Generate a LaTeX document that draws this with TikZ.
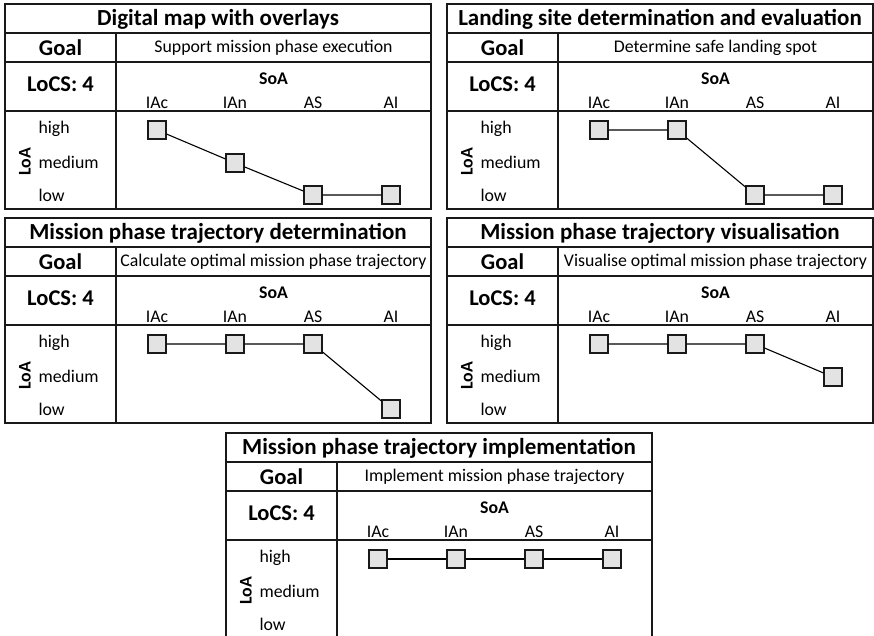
\documentclass[tikz,border=0pt]{standalone}
\usepackage{fontspec}
\setmainfont{Carlito}

\tikzset{
  frame/.style={draw=black!90, line width=1.3pt},
  level/.style={rectangle, draw=black!90, fill=black!11, line width=1.2pt,
    minimum size=18pt, inner sep=0pt},
  link/.style={draw=black, line width=1.1pt},
  title/.style={font=\fontsize{23}{27}\selectfont\bfseries},
  head/.style={font=\fontsize{22.5}{27}\selectfont\bfseries},
  txt/.style={font=\fontsize{17.8}{21}\selectfont},
  txtb/.style={font=\fontsize{17.8}{21}\selectfont\bfseries},
}

% table of one function: title, goal, SoA and LoA axes
\newcommand{\loaframe}[2]{%
  \draw[frame] (0,0) rectangle (426,205);
  \draw[frame] (0,29) -- (426,29);
  \draw[frame] (0,58) -- (426,58);
  \draw[frame] (0,107) -- (426,107);
  \draw[frame] (111,29) -- (111,205);
  \node[title] (name) at (213,15) {#1};
  \node[head] (goal) at (55.5,44) {Goal};
  \node[txt] (aim) at (268.5,44) {#2};
  \node[head] (locs) at (55.5,80) {LoCS: 4};
  \node[txtb] (soa) at (268.5,75) {SoA};
  \node[txt] (tIAc) at (152,99) {IAc};
  \node[txt] (tIAn) at (230,99) {IAn};
  \node[txt] (tAS) at (308,99) {AS};
  \node[txt] (tAI) at (386,99) {AI};
  \node[txtb,rotate=90] (loa) at (20,158) {LoA};
  \node[txt,anchor=west] (high) at (30,125) {high};
  \node[txt,anchor=west] (medium) at (30,158) {medium};
  \node[txt,anchor=west] (low) at (30,191) {low};
}

\begin{document}
\begin{tikzpicture}[x=1pt,y=-1pt]
  \useasboundingbox (0,0) rectangle (874,636);

  % Digital map
  \begin{scope}[shift={(5,4)},name prefix=map-]
    \loaframe{Digital map with overlays}{Support mission phase execution}
    \node[level] (IAc) at (152,126) {};
    \node[level] (IAn) at (230,159) {};
    \node[level] (AS) at (308,191) {};
    \node[level] (AI) at (386,191) {};
    \draw[link] (IAc) -- (IAn) -- (AS) -- (AI);
  \end{scope}

  % Landing site
  \begin{scope}[shift={(447,4)},name prefix=site-]
    \loaframe{Landing site determination and evaluation}{Determine safe landing spot}
    \node[level] (IAc) at (152,126) {};
    \node[level] (IAn) at (230,126) {};
    \node[level] (AS) at (308,191) {};
    \node[level] (AI) at (386,191) {};
    \draw[link] (IAc) -- (IAn) -- (AS) -- (AI);
  \end{scope}

  % Trajectory determination
  \begin{scope}[shift={(5,218)},name prefix=calc-]
    \loaframe{Mission phase trajectory determination}{Calculate optimal mission phase trajectory}
    \node[level] (IAc) at (152,126) {};
    \node[level] (IAn) at (230,126) {};
    \node[level] (AS) at (308,126) {};
    \node[level] (AI) at (386,191) {};
    \draw[link] (IAc) -- (IAn) -- (AS) -- (AI);
  \end{scope}

  % Trajectory visualisation
  \begin{scope}[shift={(447,218)},name prefix=vis-]
    \loaframe{Mission phase trajectory visualisation}{Visualise optimal mission phase trajectory}
    \node[level] (IAc) at (152,126) {};
    \node[level] (IAn) at (230,126) {};
    \node[level] (AS) at (308,126) {};
    \node[level] (AI) at (386,159) {};
    \draw[link] (IAc) -- (IAn) -- (AS) -- (AI);
  \end{scope}

  % Trajectory implementation
  \begin{scope}[shift={(226,433)},name prefix=impl-]
    \loaframe{Mission phase trajectory implementation}{Implement mission phase trajectory}
    \node[level] (IAc) at (152,126) {};
    \node[level] (IAn) at (230,126) {};
    \node[level] (AS) at (308,126) {};
    \node[level] (AI) at (386,126) {};
    \draw[link] (IAc) -- (IAn) -- (AS) -- (AI);
  \end{scope}
\end{tikzpicture}
\end{document}
